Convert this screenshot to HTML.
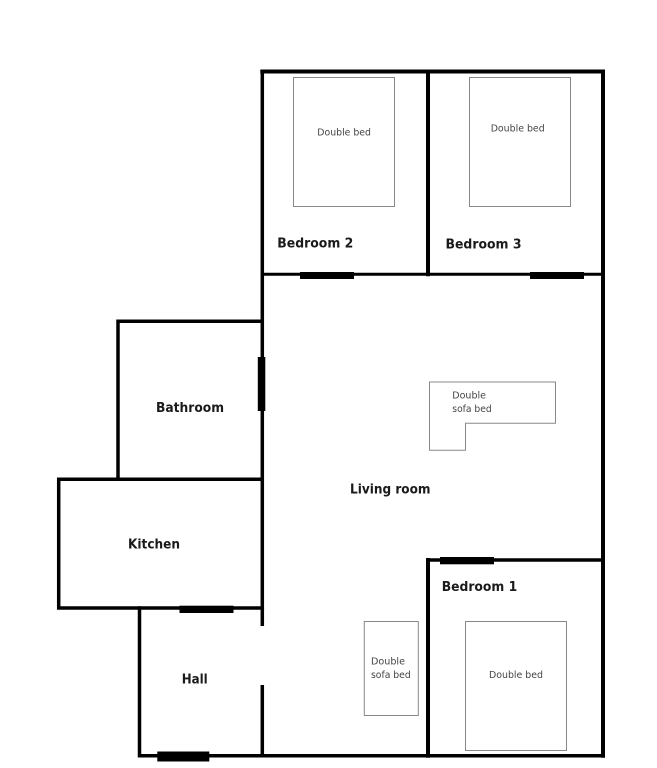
<!DOCTYPE html>
<html><head><meta charset="utf-8"><style>
html,body{margin:0;padding:0;background:#fff;width:657px;height:768px;overflow:hidden}
svg{display:block}
text{font-family:"DejaVu Sans","Liberation Sans",sans-serif}
.b{font-weight:bold;font-size:13px;fill:#1a1a1a}
.s{font-size:9.5px;fill:#444}
</style></head><body>
<svg width="657" height="768" viewBox="0 0 657 768">
<g fill="none" stroke="#000" stroke-linecap="square" stroke-linejoin="miter">
<path stroke-width="4" d="M262.300 71.500H603V755.800"/>
<path stroke-width="3.500" d="M262.300 71.500V608"/>
<path stroke-width="4" d="M428 71.500V274.300"/>
<path stroke-width="3" d="M262.300 274.300H603"/>
<path stroke-width="3.500" d="M428 560H603"/>
<path stroke-width="4" d="M428 560V755.800"/>
<path stroke-width="3.500" d="M262 321.300H118V479.300"/>
<path stroke-width="3.500" d="M262 479.300H58.700V608H262"/>
<path stroke-width="3.500" d="M139.500 608V755.800H603"/>
</g>
<path d="M262.300 608V626M262.300 685V755.800" fill="none" stroke="#000" stroke-width="3.500"/>
<g fill="#000">
<rect x="300" y="272" width="54" height="7"/>
<rect x="530" y="272" width="54" height="7"/>
<rect x="257.800" y="357" width="7.500" height="54"/>
<rect x="440" y="557" width="54" height="7.300"/>
<rect x="179.500" y="605.700" width="54" height="7.300"/>
<rect x="157.300" y="751.500" width="52" height="10"/>
</g>
<g fill="#fff" stroke="#888" stroke-width="1">
<rect x="293.500" y="77.500" width="101" height="129"/>
<rect x="469.500" y="77.500" width="101" height="129"/>
<rect x="465.500" y="621.500" width="101" height="129"/>
<rect x="364.300" y="621.500" width="54" height="94"/>
<path d="M429.500 382H555.500V423.300H465.500V450.300H429.500Z"/>
</g>
<text class="b" x="277.300" y="247.300" textLength="76" lengthAdjust="spacingAndGlyphs">Bedroom 2</text>
<text class="b" x="445.500" y="248.300" textLength="76" lengthAdjust="spacingAndGlyphs">Bedroom 3</text>
<text class="b" x="156" y="411.800" textLength="68" lengthAdjust="spacingAndGlyphs">Bathroom</text>
<text class="b" x="350" y="493.300" textLength="80.500" lengthAdjust="spacingAndGlyphs">Living room</text>
<text class="b" x="128" y="548.300" textLength="52" lengthAdjust="spacingAndGlyphs">Kitchen</text>
<text class="b" x="441.700" y="590.800" textLength="75.500" lengthAdjust="spacingAndGlyphs">Bedroom 1</text>
<text class="b" x="181.700" y="683.300" textLength="26" lengthAdjust="spacingAndGlyphs">Hall</text>
<text class="s" x="317.300" y="135.500" textLength="53.700" lengthAdjust="spacingAndGlyphs">Double bed</text>
<text class="s" x="490.700" y="131.500" textLength="54" lengthAdjust="spacingAndGlyphs">Double bed</text>
<text class="s" x="489" y="677.800" textLength="54" lengthAdjust="spacingAndGlyphs">Double bed</text>
<text class="s" x="452.300" y="398.500" textLength="33.700" lengthAdjust="spacingAndGlyphs">Double</text>
<text class="s" x="452.300" y="412.200" textLength="39.400" lengthAdjust="spacingAndGlyphs">sofa bed</text>
<text class="s" x="371" y="664.500" textLength="34" lengthAdjust="spacingAndGlyphs">Double</text>
<text class="s" x="371" y="678.200" textLength="39.700" lengthAdjust="spacingAndGlyphs">sofa bed</text>
</svg>
</body></html>
